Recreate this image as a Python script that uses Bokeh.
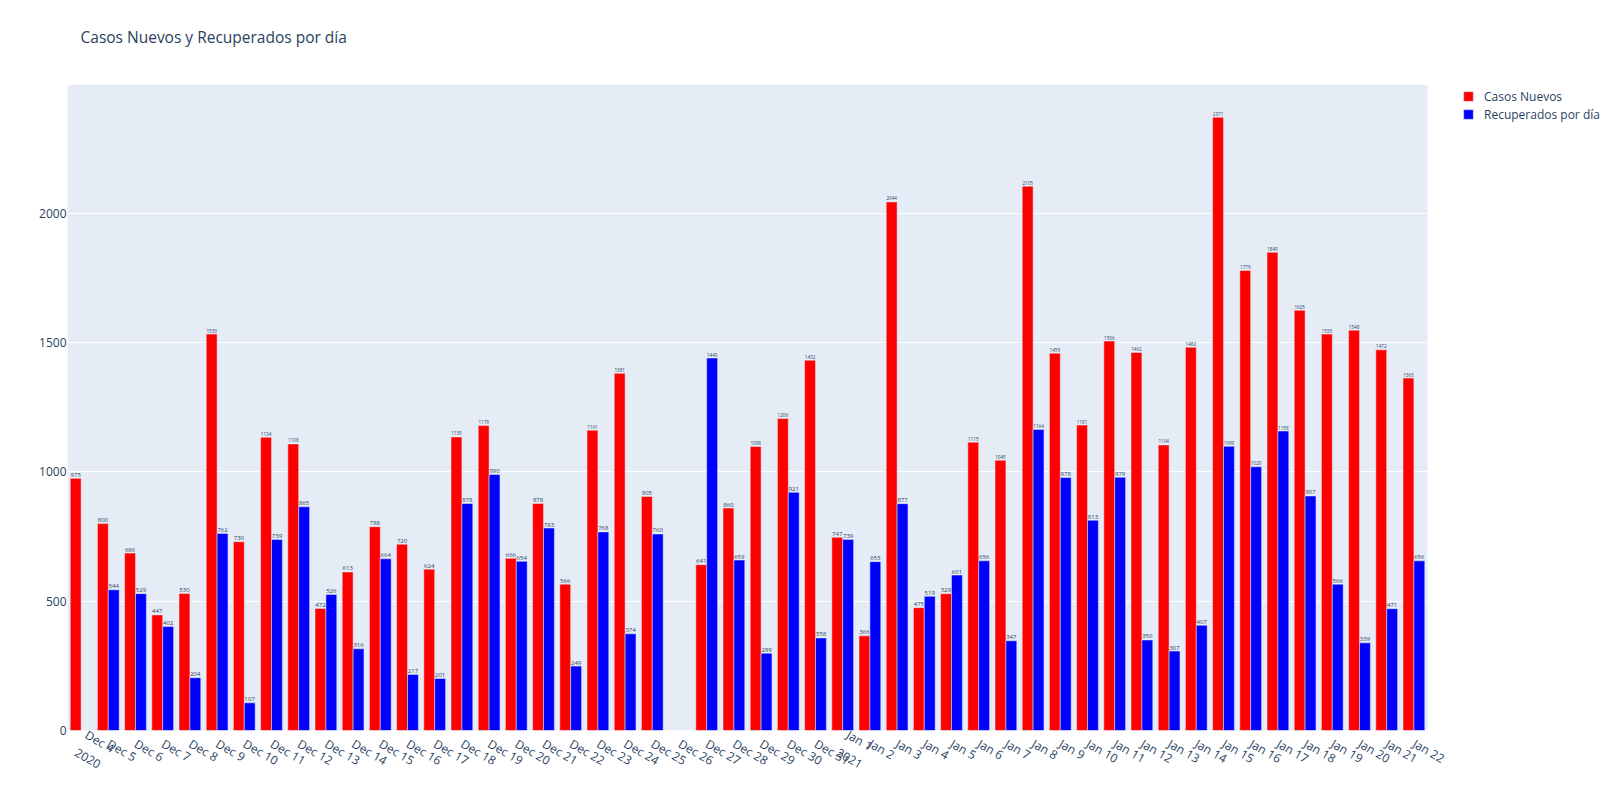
import math
from bokeh.plotting import figure
from bokeh.models import ColumnDataSource, FixedTicker, Legend, LegendItem, BoxAnnotation, Title
from bokeh.core.properties import value
from bokeh.embed import file_html
from bokeh.resources import INLINE

# ---- data ----
dates = ["Dec 4", "Dec 5", "Dec 6", "Dec 7", "Dec 8", "Dec 9", "Dec 10", "Dec 11", "Dec 12", "Dec 13",
         "Dec 14", "Dec 15", "Dec 16", "Dec 17", "Dec 18", "Dec 19", "Dec 20", "Dec 21", "Dec 22", "Dec 23",
         "Dec 24", "Dec 25", "Dec 26", "Dec 27", "Dec 28", "Dec 29", "Dec 30", "Dec 31", "Jan 1", "Jan 2",
         "Jan 3", "Jan 4", "Jan 5", "Jan 6", "Jan 7", "Jan 8", "Jan 9", "Jan 10", "Jan 11", "Jan 12",
         "Jan 13", "Jan 14", "Jan 15", "Jan 16", "Jan 17", "Jan 18", "Jan 19", "Jan 20", "Jan 21", "Jan 22"]
year_marks = {"Dec 4": "2020", "Jan 1": "2021"}

casos_nuevos = [975, 800, 686, 447, 530, 1533, 730, 1134, 1108, 472,
                613, 788, 720, 624, 1135, 1179, 666, 878, 566, 1161,
                1381, 905, None, 641, 860, 1098, 1206, 1432, 747, 366,
                2044, 475, 529, 1115, 1045, 2105, 1459, 1181, 1506, 1462,
                1104, 1482, 2371, 1779, 1849, 1625, 1533, 1548, 1472, 1363]
recuperados = [None, 544, 529, 402, 204, 762, 107, 739, 865, 526,
               316, 664, 217, 201, 878, 990, 654, 783, 249, 768,
               374, 760, None, 1440, 659, 299, 921, 358, 739, 653,
               877, 519, 601, 656, 347, 1164, 978, 813, 979, 350,
               307, 407, 1099, 1020, 1158, 907, 566, 339, 471, 656]

series_names = ["Casos Nuevos", "Recuperados por día"]
series_colors = ["#ff0000", "#0000ff"]
title_text = "Casos Nuevos y Recuperados por día"

TEXT_COLOR = "#2a3f5f"
FONT = "Open Sans"
PLOT_BG = "#E5ECF6"
X_START, X_END = -0.5, len(dates) - 0.5   # plotting area of the bars
Y_END = 2498


def make_source(vals, shift):
    xs, ys, labels, sizes = [], [], [], []
    for i, v in enumerate(vals):
        if v is None:
            continue
        xs.append(i + shift)
        ys.append(v)
        s = str(v)
        labels.append(s)
        sizes.append("%.1fpx" % min(6.0, 17.5 / (0.6 * len(s)) / 1.6))
    return ColumnDataSource(dict(x=xs, y=ys, label=labels, size=sizes))


W, H = 1600, 798
LEFT, TOP, BOTTOM = 67, 84, 68
px_per_day = 1360 / (X_END - X_START)
x_view_end = X_START + (W - LEFT) / px_per_day   # frame runs on under the legend

p = figure(width=W, height=H, output_backend="svg", toolbar_location=None,
           x_range=(X_START, x_view_end), y_range=(0, Y_END),
           min_border_left=LEFT, min_border_right=0, min_border_top=TOP, min_border_bottom=BOTTOM)

p.background_fill_color = "white"
p.border_fill_color = "white"
p.outline_line_color = None
p.add_layout(BoxAnnotation(left=X_START, right=X_END, bottom=0, top=Y_END,
                           fill_color=PLOT_BG, fill_alpha=1, line_color=None, level="image"))

# white (invisible on the white border) spacer between the frame and the title
p.add_layout(Title(text=".", text_font_size="1px", text_color="white", standoff=29), "above")

p.title.text = title_text
p.title.text_font = FONT
p.title.text_font_size = "15.5px"
p.title.text_font_style = "normal"
p.title.text_color = TEXT_COLOR
p.title.align = "left"
p.title.offset = 13
p.title.standoff = 10

renderers = []
for vals, shift, color in zip([casos_nuevos, recuperados], [-0.2, 0.2], series_colors):
    src = make_source(vals, shift)
    r = p.vbar(x="x", top="y", width=0.4, source=src, fill_color=color,
               line_color=PLOT_BG, line_width=0.5)
    p.text(x="x", y="y", text="label", source=src, text_font=value(FONT),
           text_font_size="size", text_color=TEXT_COLOR, text_align="center",
           text_baseline="bottom", y_offset=-1.5)
    renderers.append(r)

# axes
p.xgrid.grid_line_color = None
p.ygrid.grid_line_color = "white"
p.ygrid.grid_line_width = 1
p.yaxis.ticker = FixedTicker(ticks=[0, 500, 1000, 1500, 2000])
p.xaxis.ticker = FixedTicker(ticks=list(range(len(dates))))
p.xaxis.major_label_overrides = {i: (d + "\n" + year_marks[d] if d in year_marks else d)
                                 for i, d in enumerate(dates)}
p.xaxis.major_label_orientation = -math.pi / 6
for ax in (p.xaxis, p.yaxis):
    ax.axis_line_color = None
    ax.major_tick_line_color = None
    ax.minor_tick_line_color = None
    ax.major_tick_out = 0
    ax.major_tick_in = 0
    ax.minor_tick_out = 0
    ax.minor_tick_in = 0
    ax.major_label_text_font = FONT
    ax.major_label_text_font_size = "12px"
    ax.major_label_text_color = TEXT_COLOR
p.yaxis.major_label_standoff = 1
p.xaxis.major_label_standoff = 12

legend = Legend(items=[LegendItem(label=n, renderers=[r]) for n, r in zip(series_names, renderers)],
                location=(1395, 607), orientation="vertical",
                glyph_width=12, glyph_height=12, label_height=18, label_standoff=10,
                spacing=0, padding=0, margin=0,
                label_text_font=FONT, label_text_font_size="12px", label_text_color=TEXT_COLOR,
                border_line_color=None, background_fill_alpha=0)
p.add_layout(legend)

open("out.html", "w").write(file_html(p, INLINE))
